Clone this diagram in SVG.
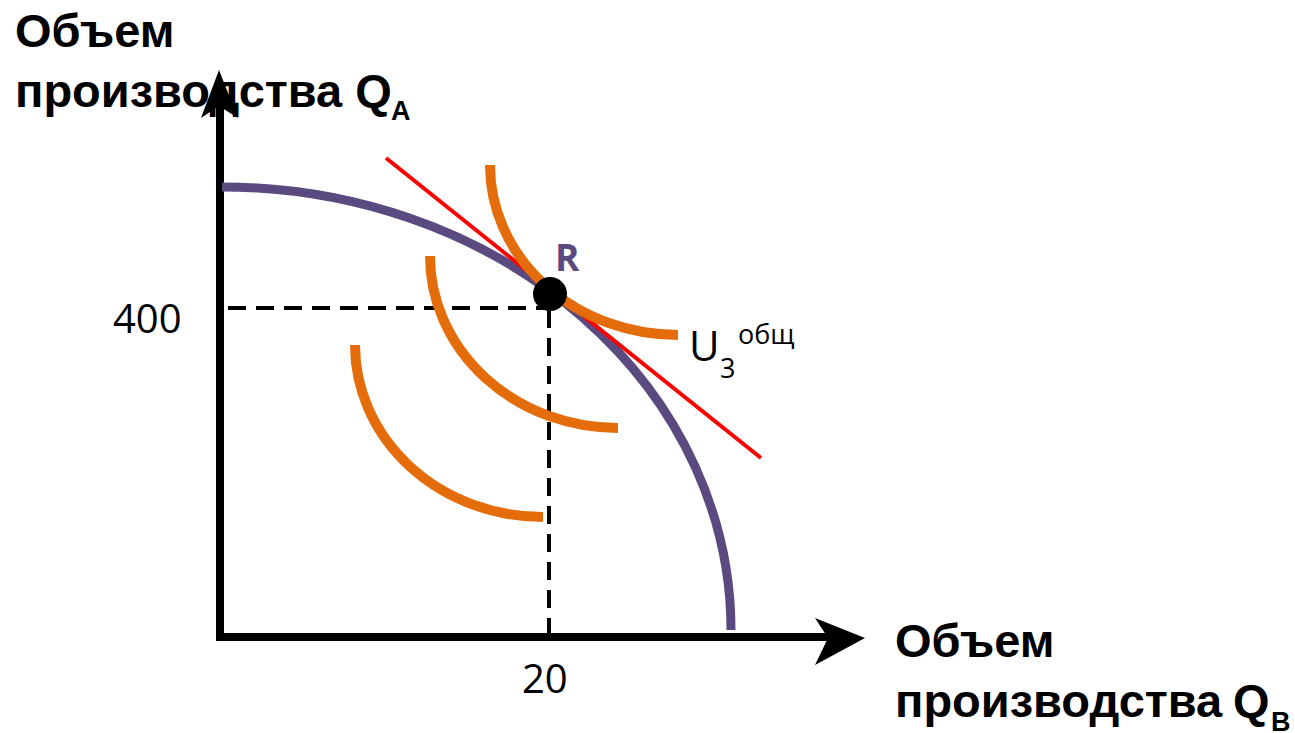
<svg xmlns="http://www.w3.org/2000/svg" width="1295" height="733" viewBox="0 0 1295 733">
<style>
.title{font-family:"Liberation Sans",Arial,sans-serif;font-weight:bold;font-size:47px;fill:#000}
.sub{font-family:"Liberation Sans",Arial,sans-serif;font-weight:bold;font-size:27px;fill:#000}
.num{font-family:"Open Sans",sans-serif;font-size:40px;fill:#000}
.ind{fill:none;stroke:#e46c0a;stroke-width:10}
</style>
<rect width="1295" height="733" fill="#fff"/>
<g id="connectors">
<line x1="220" y1="640" x2="220" y2="105" stroke="#000" stroke-width="8"/>
<polygon points="219,70 238,118 219,106 201,118" fill="#000"/>
<line x1="216" y1="637" x2="830" y2="637" stroke="#000" stroke-width="8"/>
<polygon points="865,638 815,618 828,638 815,665" fill="#000"/>
<line x1="228" y1="308" x2="550" y2="308" stroke="#000" stroke-width="4" stroke-dasharray="18,10"/>
<line x1="549" y1="310" x2="549" y2="636" stroke="#000" stroke-width="4" stroke-dasharray="18,10"/>
</g>
<g id="ppf">
<path d="M222,187 A509,443 0 0 1 731,630" fill="none" stroke="#5b4a80" stroke-width="9"/>
</g>
<g id="budget">
<line x1="386" y1="158" x2="761" y2="458" stroke="#ff0000" stroke-width="4"/>
</g>
<g id="indifference">
<path class="ind" d="M490,165 A188,170 0 0 0 678,335"/>
<path class="ind" d="M430,256 A188,172 0 0 0 618,428"/>
<path class="ind" d="M355,345 A188,172 0 0 0 543,517"/>
</g>
<g id="pointR">
<circle cx="550" cy="294" r="17" fill="#000"/>
<text x="555" y="271" font-family="Open Sans,sans-serif" font-weight="bold" font-size="37" fill="#5b4a80">R</text>
</g>
<g id="labels">
<text class="title" x="15" y="47">Объем</text>
<text class="title" x="15" y="107">производства Q</text>
<text class="sub" x="391" y="120">A</text>
<text class="title" x="895" y="657">Объем</text>
<text class="title" x="895" y="717">производства</text>
<text class="title" x="1233" y="717">Q</text>
<text class="sub" x="1271" y="731">B</text>
<text class="num" x="113" y="333">400</text>
<text class="num" x="522" y="693">20</text>
<text x="689" y="361" font-family="Open Sans,sans-serif" font-size="42" fill="#000">U</text>
<text x="720" y="378" font-family="Open Sans,sans-serif" font-size="27" fill="#000">3</text>
<text x="738" y="344" font-family="Open Sans,sans-serif" font-size="27" fill="#000">общ</text>
</g>
</svg>
